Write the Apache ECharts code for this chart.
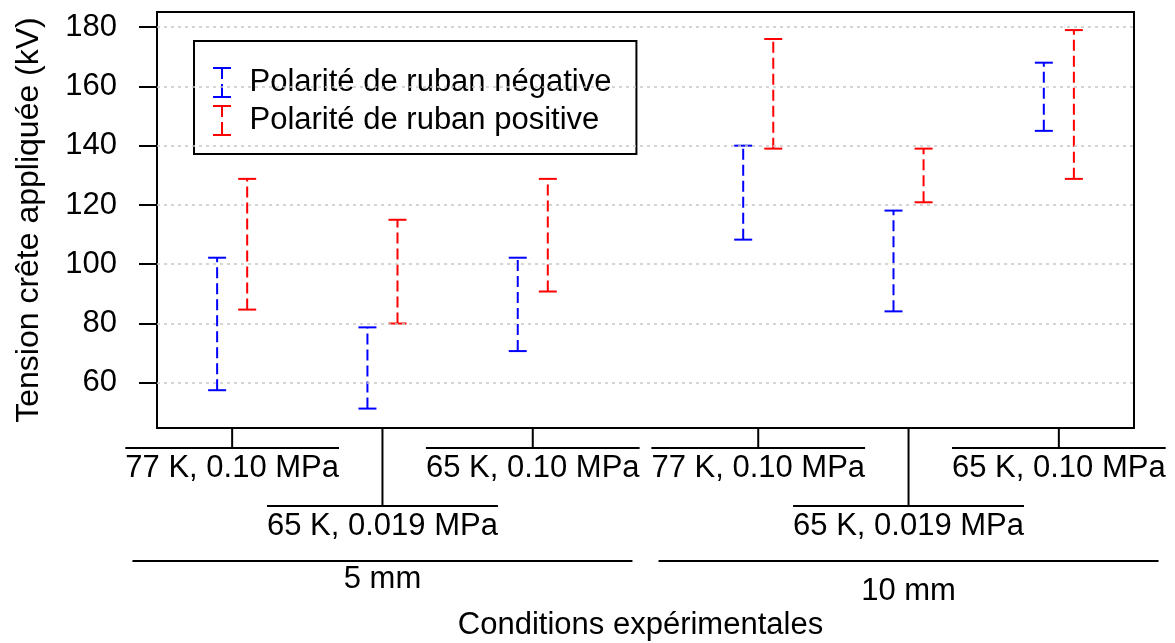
<!DOCTYPE html>
<html><head><meta charset="utf-8">
<script src="https://cdn.jsdelivr.net/npm/echarts@6/dist/echarts.min.js"></script>
<style>html,body{margin:0;padding:0;background:#fff}#c{width:1175px;height:643px}</style>
</head><body><div id="c"></div>
<script>
// ---- data ----
const conditions = ['77 K, 0.10 MPa', '65 K, 0.019 MPa', '65 K, 0.10 MPa', '77 K, 0.10 MPa', '65 K, 0.019 MPa', '65 K, 0.10 MPa'];
const conditionPos = [1, 2, 3, 4.5, 5.5, 6.5];
const conditionRow = [0, 1, 0, 0, 1, 0];
const gapLabels = ['5 mm', '10 mm'];
const gapPos = [2, 5.5];
const gapRow = [0, 1];
const negLow = [57.5, 51.3, 70.7, 108.3, 84.1, 145.0];
const negHigh = [102.2, 78.7, 102.2, 140.0, 118.1, 168.0];
const posLow = [84.7, 80.0, 90.8, 139.0, 120.9, 128.8];
const posHigh = [128.8, 115.0, 128.8, 176.0, 139.0, 179.0];
const yTicks = [60, 80, 100, 120, 140, 160, 180];
const seriesNames = ['Polarité de ruban négative', 'Polarité de ruban positive'];
const xTitle = 'Conditions expérimentales';
const yTitle = 'Tension crête appliquée (kV)';

// ---- helpers ----
const FONT = 'Liberation Sans';
const FS = 31;
const ctx2d = document.createElement('canvas').getContext('2d');
function textWidth(t) { ctx2d.font = FS + 'px "' + FONT + '"'; return ctx2d.measureText(t).width; }

const ICON = 'path://M0,0H18V2H0Z M8,2H10V12H8Z M8,17H10V27H8Z M0,29H18V31H0Z M8,27H10V29H8Z';

function errorBarSeries(name, color, lows, highs, offset) {
  return {
    type: 'custom', name: name, silent: true,
    itemStyle: { color: color },
    data: conditionPos.map((x, i) => [x, lows[i], highs[i]]),
    encode: { x: 0, y: [1, 2] },
    renderItem: function (params, api) {
      const x = api.value(0) + offset;
      const lo = api.coord([x, api.value(1)]);
      const hi = api.coord([x, api.value(2)]);
      const hw = 9;
      const st = { stroke: color, lineWidth: 2, fill: null };
      return { type: 'group', children: [
        { type: 'line', shape: { x1: lo[0], y1: lo[1], x2: hi[0], y2: hi[1] }, style: Object.assign({ lineDash: [11, 5] }, st) },
        { type: 'line', shape: { x1: lo[0] - hw, y1: lo[1], x2: lo[0] + hw, y2: lo[1] }, style: st },
        { type: 'line', shape: { x1: hi[0] - hw, y1: hi[1], x2: hi[0] + hw, y2: hi[1] }, style: st }
      ] };
    }
  };
}

const textStyleBase = { fontSize: FS, fontFamily: FONT, fill: '#000', textFill: '#000' };

const condSeries = {
  type: 'custom', silent: true, clip: false,
  data: conditionPos.map((x, i) => [x, 100]),
  encode: { x: 0, y: 1 },
  renderItem: function (params, api) {
    const i = params.dataIndex;
    const cs = params.coordSys;
    const x = api.coord([api.value(0), 100])[0];
    const yBase = cs.y + cs.height;
    const lineY = yBase + (conditionRow[i] ? 78 : 20);
    const label = conditions[i];
    const w = textWidth(label);
    return { type: 'group', children: [
      { type: 'line', shape: { x1: x, y1: yBase, x2: x, y2: lineY }, style: { stroke: '#000', lineWidth: 2 } },
      { type: 'line', shape: { x1: x - w / 2, y1: lineY, x2: x + w / 2, y2: lineY }, style: { stroke: '#000', lineWidth: 2 } },
      { type: 'text', x: x, y: lineY + 5, style: Object.assign({ text: label, align: 'center', verticalAlign: 'top', textAlign: 'center', textVerticalAlign: 'top' }, textStyleBase) }
    ] };
  }
};

const gapSeries = {
  type: 'custom', silent: true, clip: false,
  data: gapPos.map((x) => [x, 100]),
  encode: { x: 0, y: 1 },
  renderItem: function (params, api) {
    const i = params.dataIndex;
    const cs = params.coordSys;
    const x = api.coord([api.value(0), 100])[0];
    const lineY = cs.y + cs.height + 133;
    const half = 250;
    const label = gapLabels[i];
    return { type: 'group', children: [
      { type: 'line', shape: { x1: x - half, y1: lineY, x2: x + half, y2: lineY }, style: { stroke: '#000', lineWidth: 2 } },
      { type: 'text', x: x, y: lineY + 3 + gapRow[i] * 12, style: Object.assign({ text: label, align: 'center', verticalAlign: 'top', textAlign: 'center', textVerticalAlign: 'top' }, textStyleBase) }
    ] };
  }
};

const gridSeries = {
  type: 'line', data: [], silent: true,
  markLine: {
    silent: true, symbol: 'none', label: { show: false }, animation: false,
    lineStyle: { color: '#c8c8c8', type: [3, 4], width: 1.5 },
    data: yTicks.map(v => ({ yAxis: v }))
  }
};

const chart = echarts.init(document.getElementById('c'));
chart.setOption({
  animation: false,
  backgroundColor: '#fff',
  textStyle: { fontFamily: FONT },
  grid: { left: 157, right: 41, top: 12, bottom: 215, show: true, borderColor: '#000', borderWidth: 2, outerBoundsMode: 'none', containLabel: false },
  legend: {
    left: 194, top: 41, orient: 'vertical',
    data: seriesNames.map(n => ({ name: n, icon: ICON })),
    itemWidth: 45, itemHeight: 31, itemGap: 7,
    padding: [26, 25, 18, 19],
    borderColor: '#000', borderWidth: 2, borderRadius: 0,
    symbolKeepAspect: true,
    selectedMode: false,
    textStyle: { fontSize: FS, fontFamily: FONT, color: '#000' }
  },
  xAxis: {
    type: 'value', min: 0.5, max: 7,
    axisLine: { show: false }, axisTick: { show: false }, axisLabel: { show: false }, splitLine: { show: false },
    name: xTitle, nameLocation: 'middle', nameGap: 182,
    nameTextStyle: { fontSize: FS, fontFamily: FONT, color: '#000', padding: [0, 10, 0, 0] }
  },
  yAxis: {
    type: 'value', min: 44.75, max: 185.1,
    axisLine: { show: false }, splitLine: { show: false },
    axisTick: { show: true, length: 18, lineStyle: { color: '#000', width: 2 }, customValues: yTicks },
    axisLabel: { customValues: yTicks, fontSize: FS, fontFamily: FONT, color: '#000', margin: 40 },
    name: yTitle, nameLocation: 'middle', nameGap: 112,
    nameTextStyle: { fontSize: 32, fontFamily: FONT, color: '#000' }
  },
  series: [
    gridSeries,
    errorBarSeries(seriesNames[0], '#0000ff', negLow, negHigh, -0.1),
    errorBarSeries(seriesNames[1], '#ff0000', posLow, posHigh, 0.1),
    condSeries,
    gapSeries
  ]
});
</script>
</body></html>
